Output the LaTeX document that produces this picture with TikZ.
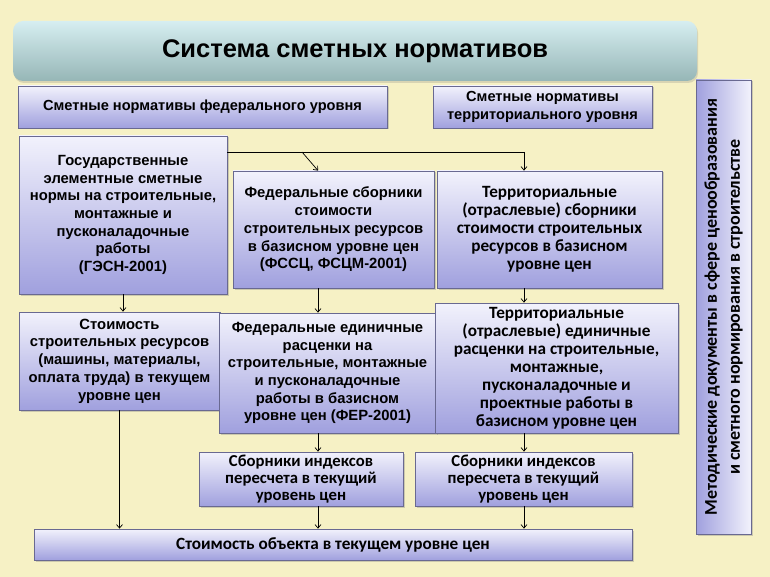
\documentclass[tikz,border=0pt]{standalone}
\usepackage{fontspec}
\setmainfont{Liberation Sans}
\newfontfamily\calfont{Carlito}
\usetikzlibrary{shadows,arrows.meta}

\definecolor{bgyellow}{RGB}{246,241,197}
\definecolor{boxtop}{RGB}{242,242,252}
\definecolor{boxbottom}{RGB}{160,160,222}
\definecolor{boxline}{RGB}{105,105,145}
\definecolor{titletop}{RGB}{214,238,241}
\definecolor{titlebottom}{RGB}{150,182,182}

\begin{document}
\begin{tikzpicture}[x=1pt, y=-1pt,
    card/.style={draw=boxline, line width=0.8pt, top color=boxtop, bottom color=boxbottom,
        inner sep=0pt, align=center, font=\bfseries\fontsize{14.8}{17.7}\selectfont,
        drop shadow={shadow xshift=1.5pt, shadow yshift=-1.5pt, opacity=0.35}},
    calcard/.style={card, font=\calfont\bfseries\fontsize{17.2}{18}\selectfont},
    headcard/.style={card, font=\bfseries\fontsize{14.6}{18}\selectfont},
    banner/.style={rounded corners=10pt, top color=titletop, bottom color=titlebottom,
        inner sep=0pt, font=\bfseries\fontsize{25.5}{30}\selectfont,
        drop shadow={shadow xshift=1pt, shadow yshift=-2pt, opacity=0.25}},
    link/.style={-{Straight Barb[length=3.5pt,width=6pt]}, line width=0.7pt}]
        % Background
        \fill[bgyellow] (0,0) rectangle (770,577);
        \useasboundingbox (0,0) rectangle (770,577);
        % Title
        \node[banner, minimum width=684pt, minimum height=60pt] (title) at (355,51) {Система сметных нормативов};
        % Levels
        \node[headcard, minimum width=369pt, minimum height=42pt] (head1) at (202.5,107) {Сметные нормативы федерального уровня};
        \node[headcard, minimum width=219pt, minimum height=42pt] (head2) at (542.5,107) {Сметные нормативы\\территориального уровня};
        \node[calcard, rotate=90, left color=boxbottom, right color=boxtop, minimum width=454pt, minimum height=55pt,
            font=\calfont\bfseries\fontsize{18}{23}\selectfont] (side) at (723.5,307)
            {Методические документы в сфере ценообразования\\и сметного нормирования в строительстве};
        % Resources column
        \node[card, minimum width=208pt, minimum height=158pt] (left1) at (123,215)
            {Государственные\\элементные сметные\\нормы на строительные,\\монтажные и\\пусконаладочные\\работы\\(ГЭСН-2001)};
        \node[card, minimum width=201pt, minimum height=98pt] (left2) at (119.5,361)
            {Стоимость\\строительных ресурсов\\(машины, материалы,\\оплата труда) в текущем\\уровне цен};
        % Federal
        \node[card, minimum width=201pt, minimum height=117pt] (fed1) at (333.5,229.5)
            {Федеральные сборники\\стоимости\\строительных ресурсов\\в базисном уровне цен\\(ФССЦ, ФСЦМ-2001)};
        \node[card, minimum width=217pt, minimum height=120pt] (fed2) at (327.5,373)
            {Федеральные единичные\\расценки на\\строительные, монтажные\\и пусконаладочные\\работы в базисном\\уровне цен (ФЕР-2001)};
        \node[calcard, minimum width=204pt, minimum height=54pt, font=\calfont\bfseries\fontsize{16.7}{17.3}\selectfont] (fed3) at (301,479)
            {Сборники индексов\\пересчета в текущий\\уровень цен};
        % Territorial
        \node[calcard, minimum width=225pt, minimum height=117pt] (terr1) at (549.5,229.5)
            {Территориальные\\(отраслевые) сборники\\стоимости строительных\\ресурсов в базисном\\уровне цен};
        \node[calcard, minimum width=243pt, minimum height=130pt] (terr2) at (556.5,368)
            {Территориальные\\(отраслевые) единичные\\расценки на строительные,\\монтажные,\\пусконаладочные и\\проектные работы в\\базисном уровне цен};
        \node[calcard, minimum width=217pt, minimum height=54pt, font=\calfont\bfseries\fontsize{16.7}{17.3}\selectfont] (terr3) at (523.5,479)
            {Сборники индексов\\пересчета в текущий\\уровень цен};
        % Result
        \node[calcard, minimum width=598pt, minimum height=31pt] (total) at (333,544.5) {Стоимость объекта в текущем уровне цен};
        % Connectors
        \coordinate (branch) at (302,152);
        \coordinate (split) at (524,152);
        \coordinate (fedcol) at (318,0);
        \draw[line width=0.7pt] (left1.east |- split) -- (split);
        \draw[link] (branch) -- (fedcol |- fed1.north);
        \draw[link] (split) -- (split |- terr1.north);
        \draw[link] (left1.south) -- (left1.south |- left2.north);
        \draw[link] (left2.south) -- (left2.south |- total.north);
        \draw[link] (fedcol |- fed1.south) -- (fedcol |- fed2.north);
        \draw[link] (fedcol |- fed2.south) -- (fedcol |- fed3.north);
        \draw[link] (fedcol |- fed3.south) -- (fedcol |- total.north);
        \draw[link] (split |- terr1.south) -- (split |- terr2.north);
        \draw[link] (split |- terr2.south) -- (split |- terr3.north);
        \draw[link] (split |- terr3.south) -- (split |- total.north);
\end{tikzpicture}
\end{document}
